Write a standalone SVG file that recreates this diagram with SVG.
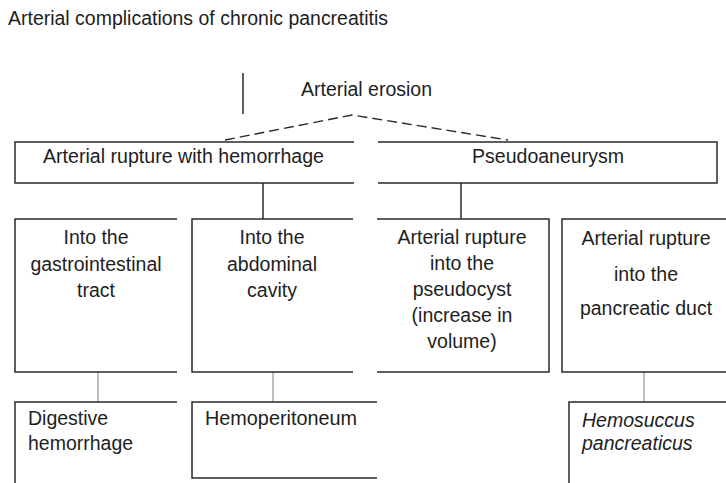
<svg xmlns="http://www.w3.org/2000/svg" width="726" height="483" viewBox="0 0 726 483">
<style>
.t{font-family:"Liberation Sans",Arial,sans-serif;font-size:19.5px;fill:#1e1e1e}
.c{text-anchor:middle}
.i{font-style:italic}
.box{fill:none;stroke:#2a2a2a;stroke-width:1.5}
.dk{stroke:#2a2a2a;stroke-width:1.5;fill:none}
.gr{stroke:#a8a8a8;stroke-width:1.5;fill:none}
.ds{stroke:#2a2a2a;stroke-width:1.4;fill:none;stroke-dasharray:10 5}
</style>
<rect width="726" height="483" fill="#fff"/>
<text class="t" x="8" y="25" textLength="380" lengthAdjust="spacingAndGlyphs">Arterial complications of chronic pancreatitis</text>
<g id="connectors">
<line class="dk" x1="243" y1="73" x2="243" y2="114"/>
<polyline class="ds" points="225,140 352,115 508,140"/>
<line class="dk" x1="263" y1="183" x2="263" y2="219"/>
<line class="dk" x1="461" y1="183" x2="461" y2="219"/>
<line class="gr" x1="98" y1="372" x2="98" y2="402"/>
<line class="gr" x1="273" y1="372" x2="273" y2="402"/>
<line class="gr" x1="644" y1="372" x2="644" y2="402"/>
</g>
<g id="erosion">
<text class="t" x="301" y="96" textLength="131" lengthAdjust="spacingAndGlyphs">Arterial erosion</text>
</g>
<g id="rupture">
<path class="box" d="M354,142 H15 V183 H354"/>
<text class="t" x="43" y="163" textLength="281" lengthAdjust="spacingAndGlyphs">Arterial rupture with hemorrhage</text>
</g>
<g id="pseudoaneurysm">
<path class="box" d="M378,142 H717 V183 H378"/>
<text class="t" x="472" y="163" textLength="152" lengthAdjust="spacingAndGlyphs">Pseudoaneurysm</text>
</g>
<g id="gi">
<path class="box" d="M177,219 H15 V372 H177"/>
<text class="t c" x="96" y="244">Into the</text>
<text class="t c" x="96" y="271">gastrointestinal</text>
<text class="t c" x="96" y="297">tract</text>
</g>
<g id="abdominal">
<path class="box" d="M353,219 H192 V372 H353"/>
<text class="t c" x="272" y="244">Into the</text>
<text class="t c" x="272" y="271">abdominal</text>
<text class="t c" x="272" y="297">cavity</text>
</g>
<g id="pseudocyst">
<path class="box" d="M377,219 H549 V372 H377"/>
<text class="t c" x="462" y="244">Arterial rupture</text>
<text class="t c" x="462" y="270">into the</text>
<text class="t c" x="462" y="296">pseudocyst</text>
<text class="t c" x="462" y="322">(increase in</text>
<text class="t c" x="462" y="348">volume)</text>
</g>
<g id="duct">
<path class="box" d="M735,219 H562 V372 H735"/>
<text class="t c" x="646" y="245">Arterial rupture</text>
<text class="t c" x="646" y="281">into the</text>
<text class="t c" x="646" y="315">pancreatic duct</text>
</g>
<g id="digestive">
<path class="box" d="M177,402 H15 V490"/>
<text class="t" x="28" y="425">Digestive</text>
<text class="t" x="28" y="450">hemorrhage</text>
</g>
<g id="hemoperitoneum">
<path class="box" d="M377,402 H192 V478 H377"/>
<text class="t" x="205" y="425" textLength="152" lengthAdjust="spacingAndGlyphs">Hemoperitoneum</text>
</g>
<g id="hemosuccus">
<path class="box" d="M735,402 H569 V490"/>
<text class="t i" x="582" y="427">Hemosuccus</text>
<text class="t i" x="582" y="450">pancreaticus</text>
</g>
</svg>
